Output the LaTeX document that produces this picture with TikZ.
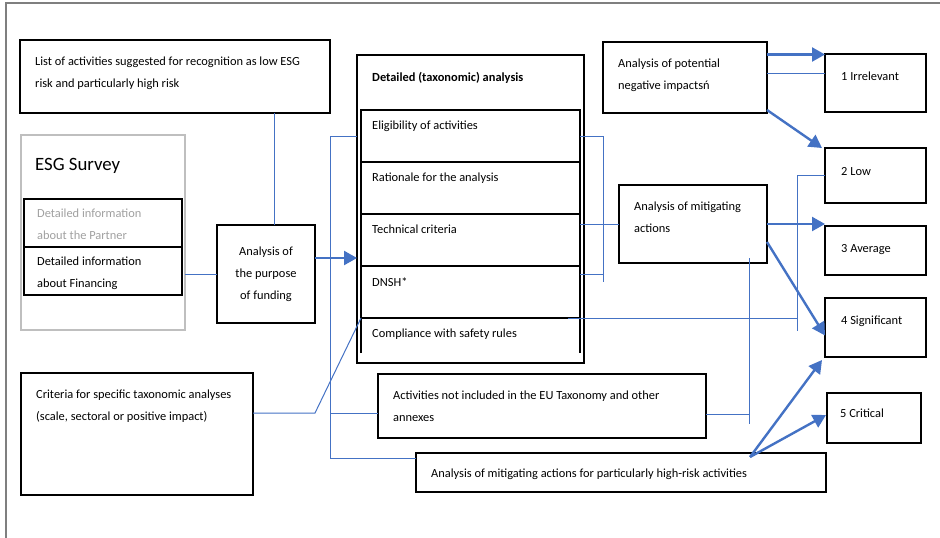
\documentclass[tikz,border=0pt]{standalone}
\usepackage{fontspec}
\setmainfont{Carlito}
\usetikzlibrary{arrows.meta}
\definecolor{lineblue}{HTML}{4472C4}
\definecolor{framegray}{HTML}{7F7F7F}
\definecolor{esggray}{HTML}{BFBFBF}
\definecolor{partnergray}{HTML}{A0A0A0}
\newcommand\boxfont{\fontsize{12.4}{22}\selectfont}
\newcommand\titlefont{\fontsize{18.8}{22}\selectfont}
\tikzset{
  box/.style 2 args={draw=black, line width=1.2pt, anchor=north west, inner sep=0pt, outer sep=0pt,
    minimum width=#1, minimum height=#2},
  esgbox/.style 2 args={box={#1}{#2}, draw=esggray, line width=2pt},
  inbox/.style={box={219}{52}, line width=1.4pt},
  txt/.style={anchor=north west, inner sep=0pt, align=left, font=\boxfont, xshift=15pt, yshift=-#1},
  txt/.default=17pt,
  conn/.style={lineblue, line width=1pt},
  arr/.style={-{Triangle[length=13pt,width=14pt]}, lineblue, line width=2.4pt},
  frame/.style={framegray, line width=1.5pt}
}

\begin{document}
\begin{tikzpicture}[x=1pt, y=-1pt]
    \useasboundingbox (0,0) rectangle (940,538);
    % Outer frame
    \draw[frame] (940,3) -- (6,3) -- (6,538);

    % Left column
    \node[box={310}{73}, label={[txt]north west:{List of activities suggested for recognition as low ESG\\risk and particularly high risk}}] (list) at (20,40) {};
    \node[esgbox={164}{195}, label={[txt=23pt, xshift=-1pt, font=\titlefont]north west:ESG Survey}] (esg) at (21,135) {};
    \node[box={158}{48}, label={[txt=10pt, xshift=-2pt, text=partnergray]north west:{Detailed information\\about the Partner}}] (partner) at (24,199) {};
    \node[box={158}{48}, label={[txt=10pt, xshift=-2pt]north west:{Detailed information\\about Financing}}] (financing) at (24,247) {};
    \node[box={98}{98}, align=center, font=\boxfont] (purpose) at (217,225) {Analysis of\\the purpose\\of funding};
    \node[box={232}{122}, label={[txt]north west:{Criteria for specific taxonomic analyses\\(scale, sectoral or positive impact)}}] (criteria) at (21,373) {};

    % Detailed analysis block
    \node[box={227}{308}, label={[txt, font=\boxfont\bfseries]north west:Detailed (taxonomic) analysis}] (detailed) at (357,55) {};
    \node[inbox, label={[txt=11pt, xshift=-4pt]north west:Eligibility of activities}] (elig) at (361,110) {};
    \node[inbox, label={[txt=11pt, xshift=-4pt]north west:Rationale for the analysis}] (rationale) at (361,162) {};
    \node[inbox, label={[txt=11pt, xshift=-4pt]north west:Technical criteria}] (tech) at (361,214) {};
    \node[inbox, label={[txt=11pt, xshift=-4pt]north west:DNSH*}] (dnsh) at (361,266) {};
    \node[inbox, draw=none, minimum height=35, label={[txt=11pt, xshift=-4pt]north west:Compliance with safety rules}] (compliance) at (361,318) {};
    \draw[line width=1.4pt] (compliance.south west) -- (compliance.north west) -- (compliance.north east) -- (compliance.south east);

    \node[box={328}{64}, label={[txt]north west:{Activities not included in the EU Taxonomy and other\\annexes}}] (activities) at (378,374) {};
    \node[box={410}{39}, label={[txt=16pt]north west:Analysis of mitigating actions for particularly high-risk activities}] (highrisk) at (416,453) {};

    % Right column
    \node[box={164}{71}, label={[txt]north west:{Analysis of potential\\negative impactsń}}] (negative) at (603,42) {};
    \node[box={148}{78}, label={[txt]north west:{Analysis of mitigating\\actions}}] (mitigating) at (619,185) {};

    % Risk levels
    \node[box={101}{58}, label={[txt=18pt, xshift=1pt]north west:1 Irrelevant}] (irrelevant) at (825,54) {};
    \node[box={101}{55}, label={[txt=19pt, xshift=1pt]north west:2 Low}] (low) at (825,148) {};
    \node[box={101}{49}, label={[txt=18pt, xshift=1pt]north west:3 Average}] (average) at (825,226) {};
    \node[box={101}{59}, label={[txt=18pt, xshift=1pt]north west:4 Significant}] (significant) at (825,298) {};
    \node[box={94}{50}, label={[txt=16pt, xshift=-2pt]north west:5 Critical}] (critical) at (827,393) {};

    % Thin connectors
    \draw[conn] ([xshift=8pt]purpose.north) coordinate (pn) -- (pn |- list.south);
    \draw[conn] (purpose.west) -- (purpose.west -| esg.east);
    \draw[conn] (elig.west -| detailed.west) -- ++(-27,0) coordinate (lb) |- ([yshift=14pt]highrisk.west);
    \draw[conn] ([yshift=-7pt]activities.west) coordinate (aw) -- (aw -| lb);
    \draw[conn] ([yshift=21pt]criteria.east) -- ++(62,0) -- (compliance.north west);
    \draw[conn] (elig.east) -- ++(23,0) coordinate (rb) -- ++(0,146);
    \draw[conn] (mitigating.west) -- (mitigating.west -| tech.east);
    \draw[conn] ([yshift=18pt]dnsh.east) coordinate (de) -- (de -| rb);
    \draw[conn] ([yshift=4pt]negative.east) coordinate (ne) -- (ne -| irrelevant.west);
    \draw[conn] (low.west) -- ++(-28,0) coordinate (lw) -- ++(0,155);
    \draw[conn] ([xshift=-12pt]compliance.north east) coordinate (ce) -- (ce -| lw);
    \draw[conn] ([xshift=-18pt,yshift=5pt]mitigating.south east) coordinate (mb) -- ++(0,166);
    \draw[conn] ([yshift=-8pt]activities.east) coordinate (ae) -- (ae -| mb);

    % Thick arrows
    \draw[arr] ([yshift=16pt]purpose.east) coordinate (pe) -- (pe -| detailed.west);
    \draw[arr] ([yshift=23pt]negative.east) coordinate (nt) -- (nt -| irrelevant.west);
    \draw[arr] ([yshift=3pt]negative.south east) -- ([xshift=-3pt]low.north west);
    \draw[arr] (mitigating.east) -- (mitigating.east -| average.west);
    \draw[arr] ([yshift=-18pt]mitigating.east) -- ([yshift=-8pt]significant.west);
    \coordinate (hr) at ([xshift=-76pt,yshift=-4pt]highrisk.north east);
    \draw[arr] (hr) -- ([xshift=-3pt,yshift=-3pt]significant.south west);
    \draw[arr] (hr) -- ([xshift=-1pt,yshift=3pt]critical.west);
\end{tikzpicture}
\end{document}
